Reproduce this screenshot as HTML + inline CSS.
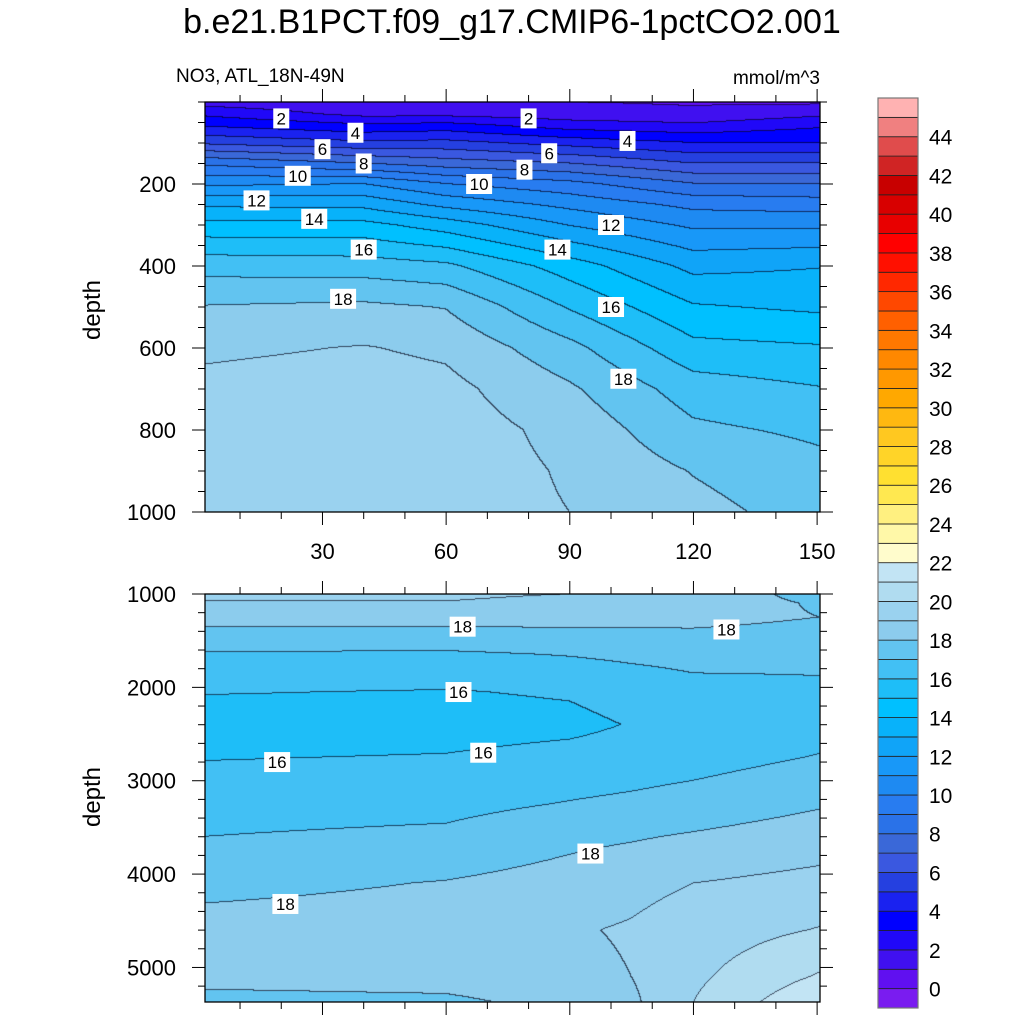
<!DOCTYPE html>
<html><head><meta charset="utf-8">
<style>
html,body{margin:0;padding:0;background:#fff;}
body{width:1024px;height:1024px;position:relative;overflow:hidden;font-family:"Liberation Sans",sans-serif;color:#000;}
.t{position:absolute;white-space:nowrap;}
canvas{position:absolute;}
svg{position:absolute;left:0;top:0;}
</style></head>
<body>
<div class="t" style="left:0;width:1024px;text-align:center;top:3px;font-size:34px;">b.e21.B1PCT.f09_g17.CMIP6-1pctCO2.001</div>
<div class="t" style="left:176px;top:66px;font-size:19px;">NO3, ATL_18N-49N</div>
<div class="t" style="left:680px;width:140px;text-align:right;top:68px;font-size:19px;">mmol/m^3</div>
<div class="t" style="left:93px;top:310px;font-size:24px;transform:translate(-50%,-50%) rotate(-90deg);">depth</div>
<div class="t" style="left:93px;top:797px;font-size:24px;transform:translate(-50%,-50%) rotate(-90deg);">depth</div>
<canvas id="c1" width="615" height="410" style="left:205px;top:102px"></canvas>
<canvas id="c2" width="615" height="408" style="left:205px;top:594px"></canvas>
<svg id="ov" width="1024" height="1024"></svg>
<script>
// ---- data ----
const colors=["#7a1cf0","#6010f0","#4010f0","#2008f8","#0000ff","#1a22f0","#2540e0","#3a58e0","#3a68d8","#2a72e8","#287cf0","#1e8af2","#1898f8","#10a4f8","#08b2fa","#00c0ff","#1ebef8","#42c0f4","#62c4f0","#8ccced","#9ad2ef","#b0dcf0","#c2e4f4","#fffccc","#fff8a8","#fff080","#ffe850","#ffe030","#ffd428","#ffc820","#ffb810","#ffa800","#ff9800","#ff8800","#ff7800","#ff6000","#ff4800","#ff2800","#ff1000","#ff0000","#e80000","#d80000","#c80000","#d02424","#e04c4c","#f08080","#ffb2b2"];
const cbLabels=[0,2,4,6,8,10,12,14,16,18,20,22,24,26,28,30,32,34,36,38,40,42,44];
const xTicks=[30,60,90,120,150];
const topYTicks=[200,400,600,800,1000];
const botYTicks=[1000,2000,3000,4000,5000];
const times=[1.5,40,60,90,120,150.7];
const topDepths=[0,30,60,100,150,200,250,300,400,500,600,700,800,900,1000];
const topT1=[1.5,2.8,4.0,5.8,8.8,10.8,12.8,14.3,16.6,18.05,18.8,19.3,19.5,19.6,19.7];
const topT40=[1.2,1.7,3.3,5.2,8.0,11.0,12.7,14.3,16.5,18.2,19.05,19.5,19.7,19.8,19.8];
const topT60=[1.1,1.7,3.5,5.3,7.5,10.0,11.7,13.5,16.2,17.95,18.8,19.3,19.5,19.5,19.4];
const topT90=[1.0,1.4,2.6,4.6,7.0,9.3,10.7,11.95,14.5,15.9,17.3,18.15,18.7,18.9,19.0];
const topT120=[0.9,1.2,2.3,4.0,6.0,8.05,9.7,10.8,12.7,14.1,15.3,16.5,17.2,17.95,18.3];
const topT150=[0.8,1.8,2.9,4.0,6.0,8.0,9.5,10.8,12.95,13.8,15.1,16.05,16.8,17.3,17.6];
const botTimes=[1.5,60,90,105,120,150.7];
const botDepths=[1000,1100,1250,1350,1650,2050,2400,2750,3250,3600,4100,4600,5100,5375];
const botT1=[19.2,18.95,18.4,18.0,16.9,16.05,15.5,15.95,16.6,17.0,17.7,18.4,18.3,17.7];
const botT60=[19.2,18.95,18.4,18.0,16.85,15.95,15.6,16.05,16.7,17.2,18.05,18.5,18.4,17.8];
const botT90=[19.0,18.7,18.3,18.05,17.05,16.1,15.75,16.3,17.05,17.75,18.4,18.9,18.7,18.3];
const botT105=[18.85,18.6,18.3,18.05,17.2,16.4,16.05,16.45,17.2,17.9,18.7,19.1,19.0,18.8];
const botT120=[18.7,18.5,18.25,18.05,17.3,16.7,16.4,16.6,17.4,18.1,19.0,19.5,19.8,20.0];
const botT150=[17.6,17.9,18.0,17.85,17.2,16.85,16.6,17.05,17.9,18.5,19.3,20.05,21.1,21.9];
const topLabels=[[20,40,"2"],[80,40,"2"],[38,75,"4"],[104,95,"4"],[30,115,"6"],[85,125,"6"],[40,150,"8"],[79,165,"8"],[24,180,"10"],[68,200,"10"],[14,240,"12"],[100,300,"12"],[28,285,"14"],[87,360,"14"],[40,360,"16"],[100,500,"16"],[35,480,"18"],[103,675,"18"]];
const botLabels=[[64,1350,"18"],[128,1380,"18"],[63,2050,"16"],[69,2700,"16"],[19,2800,"16"],[95,3780,"18"],[21,4320,"18"]];

// ---- axes ----
const X0=205,X1=820,T0=1.5,T1=150.7;
const xs=t=>X0+(t-T0)/(T1-T0)*(X1-X0);
const TY0=102,TY1=512,TD0=0,TD1=1000;
const ysTop=d=>TY0+(d-TD0)/(TD1-TD0)*(TY1-TY0);
const BY0=594,BY1=1002,BD0=1000,BD1=5370;
const ysBot=d=>BY0+(d-BD0)/(BD1-BD0)*(BY1-BY0);

function interp1(arr,vals,x){
  if(x<=arr[0])return vals[0];
  for(let i=1;i<arr.length;i++){if(x<=arr[i]){const f=(x-arr[i-1])/(arr[i]-arr[i-1]);return vals[i-1]+f*(vals[i]-vals[i-1]);}}
  return vals[vals.length-1];
}
function field(tArr,cols,dArr){
  return (t,d)=>{const col=cols.map(c=>interp1(dArr,c,d));return interp1(tArr,col,t);};
}
function hex(c){return [parseInt(c.slice(1,3),16),parseInt(c.slice(3,5),16),parseInt(c.slice(5,7),16)];}
const rgb=colors.map(hex);
function lev(v){let k=Math.floor(v)+1;return Math.max(0,Math.min(colors.length-1,k));}
function draw(id,f,yTop,yBot,dTop,dBot){
  const cv=document.getElementById(id),ctx=cv.getContext('2d');
  const W=cv.width,H=cv.height,img=ctx.createImageData(W,H);
  const L=new Int16Array(W*H);
  for(let j=0;j<H;j++){const d=dTop+(j+0.5)/(yBot-yTop)*(dBot-dTop);
    for(let i=0;i<W;i++){const t=T0+(i+0.5)/(X1-X0)*(T1-T0);L[j*W+i]=lev(f(t,d));}}
  for(let p=0;p<W*H;p++){const i=p%W,j=(p/W)|0;let c=rgb[L[p]];
    const edge=(i<W-1&&L[p]!==L[p+1])||(j<H-1&&L[p]!==L[p+W]);
    if(edge)c=[Math.round(c[0]*0.35),Math.round(c[1]*0.35),Math.round(c[2]*0.4)];
    img.data[p*4]=c[0];img.data[p*4+1]=c[1];img.data[p*4+2]=c[2];img.data[p*4+3]=255;}
  ctx.putImageData(img,0,0);
}
draw('c1',field(times,[topT1,topT40,topT60,topT90,topT120,topT150],topDepths),TY0,TY1,TD0,TD1);
draw('c2',field(botTimes,[botT1,botT60,botT90,botT105,botT120,botT150],botDepths),BY0,BY1,BD0,BD1);

const NS="http://www.w3.org/2000/svg",ov=document.getElementById('ov');
function el(tag,attrs,txt){const e=document.createElementNS(NS,tag);for(const k in attrs)e.setAttribute(k,attrs[k]);if(txt!==undefined)e.textContent=txt;ov.appendChild(e);return e;}
function line(x1,y1,x2,y2,w){return el('line',{x1,y1,x2,y2,stroke:'#000','stroke-width':w||1});}

// contour labels
function clab(x,y,s,nm){
  const w=s.length*10+6;
  const r=el('rect',{x:x-w/2,y:y-10,width:w,height:20,fill:'#fff'});
  
  
  const t=el('text',{x:x,y:y+6,'font-size':17,'text-anchor':'middle','font-family':'Liberation Sans, sans-serif'},s);
  
  
}
topLabels.forEach(l=>clab(xs(l[0]),ysTop(l[1]),l[2],'top-contour-label'));
botLabels.forEach(l=>clab(xs(l[0]),ysBot(l[1]),l[2],'bottom-contour-label'));

function panel(yA,yB,ys,yMaj,minStep,dMin,dMax,name,xlabels){
  const r=el('rect',{x:X0,y:yA,width:X1-X0,height:yB-yA,fill:'none',stroke:'#000','stroke-width':1.3});
  
  
  for(let t=10;t<=150;t+=10){const x=xs(t),maj=t%30===0,L=maj?13:7;
    line(x,yB,x,yB+L);line(x,yA,x,yA-L);}
  for(let d=Math.ceil(dMin/minStep)*minStep;d<=dMax;d+=minStep){const y=ys(d),maj=yMaj.includes(d),L=maj?13:7;
    line(X0-L,y,X0,y);line(X1,y,X1+L,y);}
  yMaj.forEach(d=>{const t=el('text',{x:176,y:ys(d)+8,'font-size':22,'text-anchor':'end','font-family':'Liberation Sans, sans-serif'},String(d));
    
    });
  if(xlabels)xTicks.forEach(v=>{const t=el('text',{x:xs(v),y:559,'font-size':22,'text-anchor':'middle','font-family':'Liberation Sans, sans-serif'},String(v));
    
    });
}
panel(TY0,TY1,ysTop,topYTicks,50,0,1000,'top-panel',true);
panel(BY0,BY1,ysBot,botYTicks,200,1000,5370,'bottom-panel',false);

// colorbar
const CBX=878,CBW=40,CBT=98,CBB=1008,n=colors.length,bh=(CBB-CBT)/n;
colors.forEach((c,k)=>{const y=CBB-(k+1)*bh;
  const r=el('rect',{x:CBX,y:y,width:CBW,height:bh,fill:c,stroke:'#222','stroke-width':0.8});
  
  });
const fr=el('rect',{x:CBX,y:CBT,width:CBW,height:CBB-CBT,fill:'none',stroke:'#777','stroke-width':1.2});


cbLabels.forEach(v=>{const y=CBB-(v+1)*bh;
  const t=el('text',{x:929,y:y+8,'font-size':21,'font-family':'Liberation Sans, sans-serif'},String(v));
  
  });
</script>
</body></html>
